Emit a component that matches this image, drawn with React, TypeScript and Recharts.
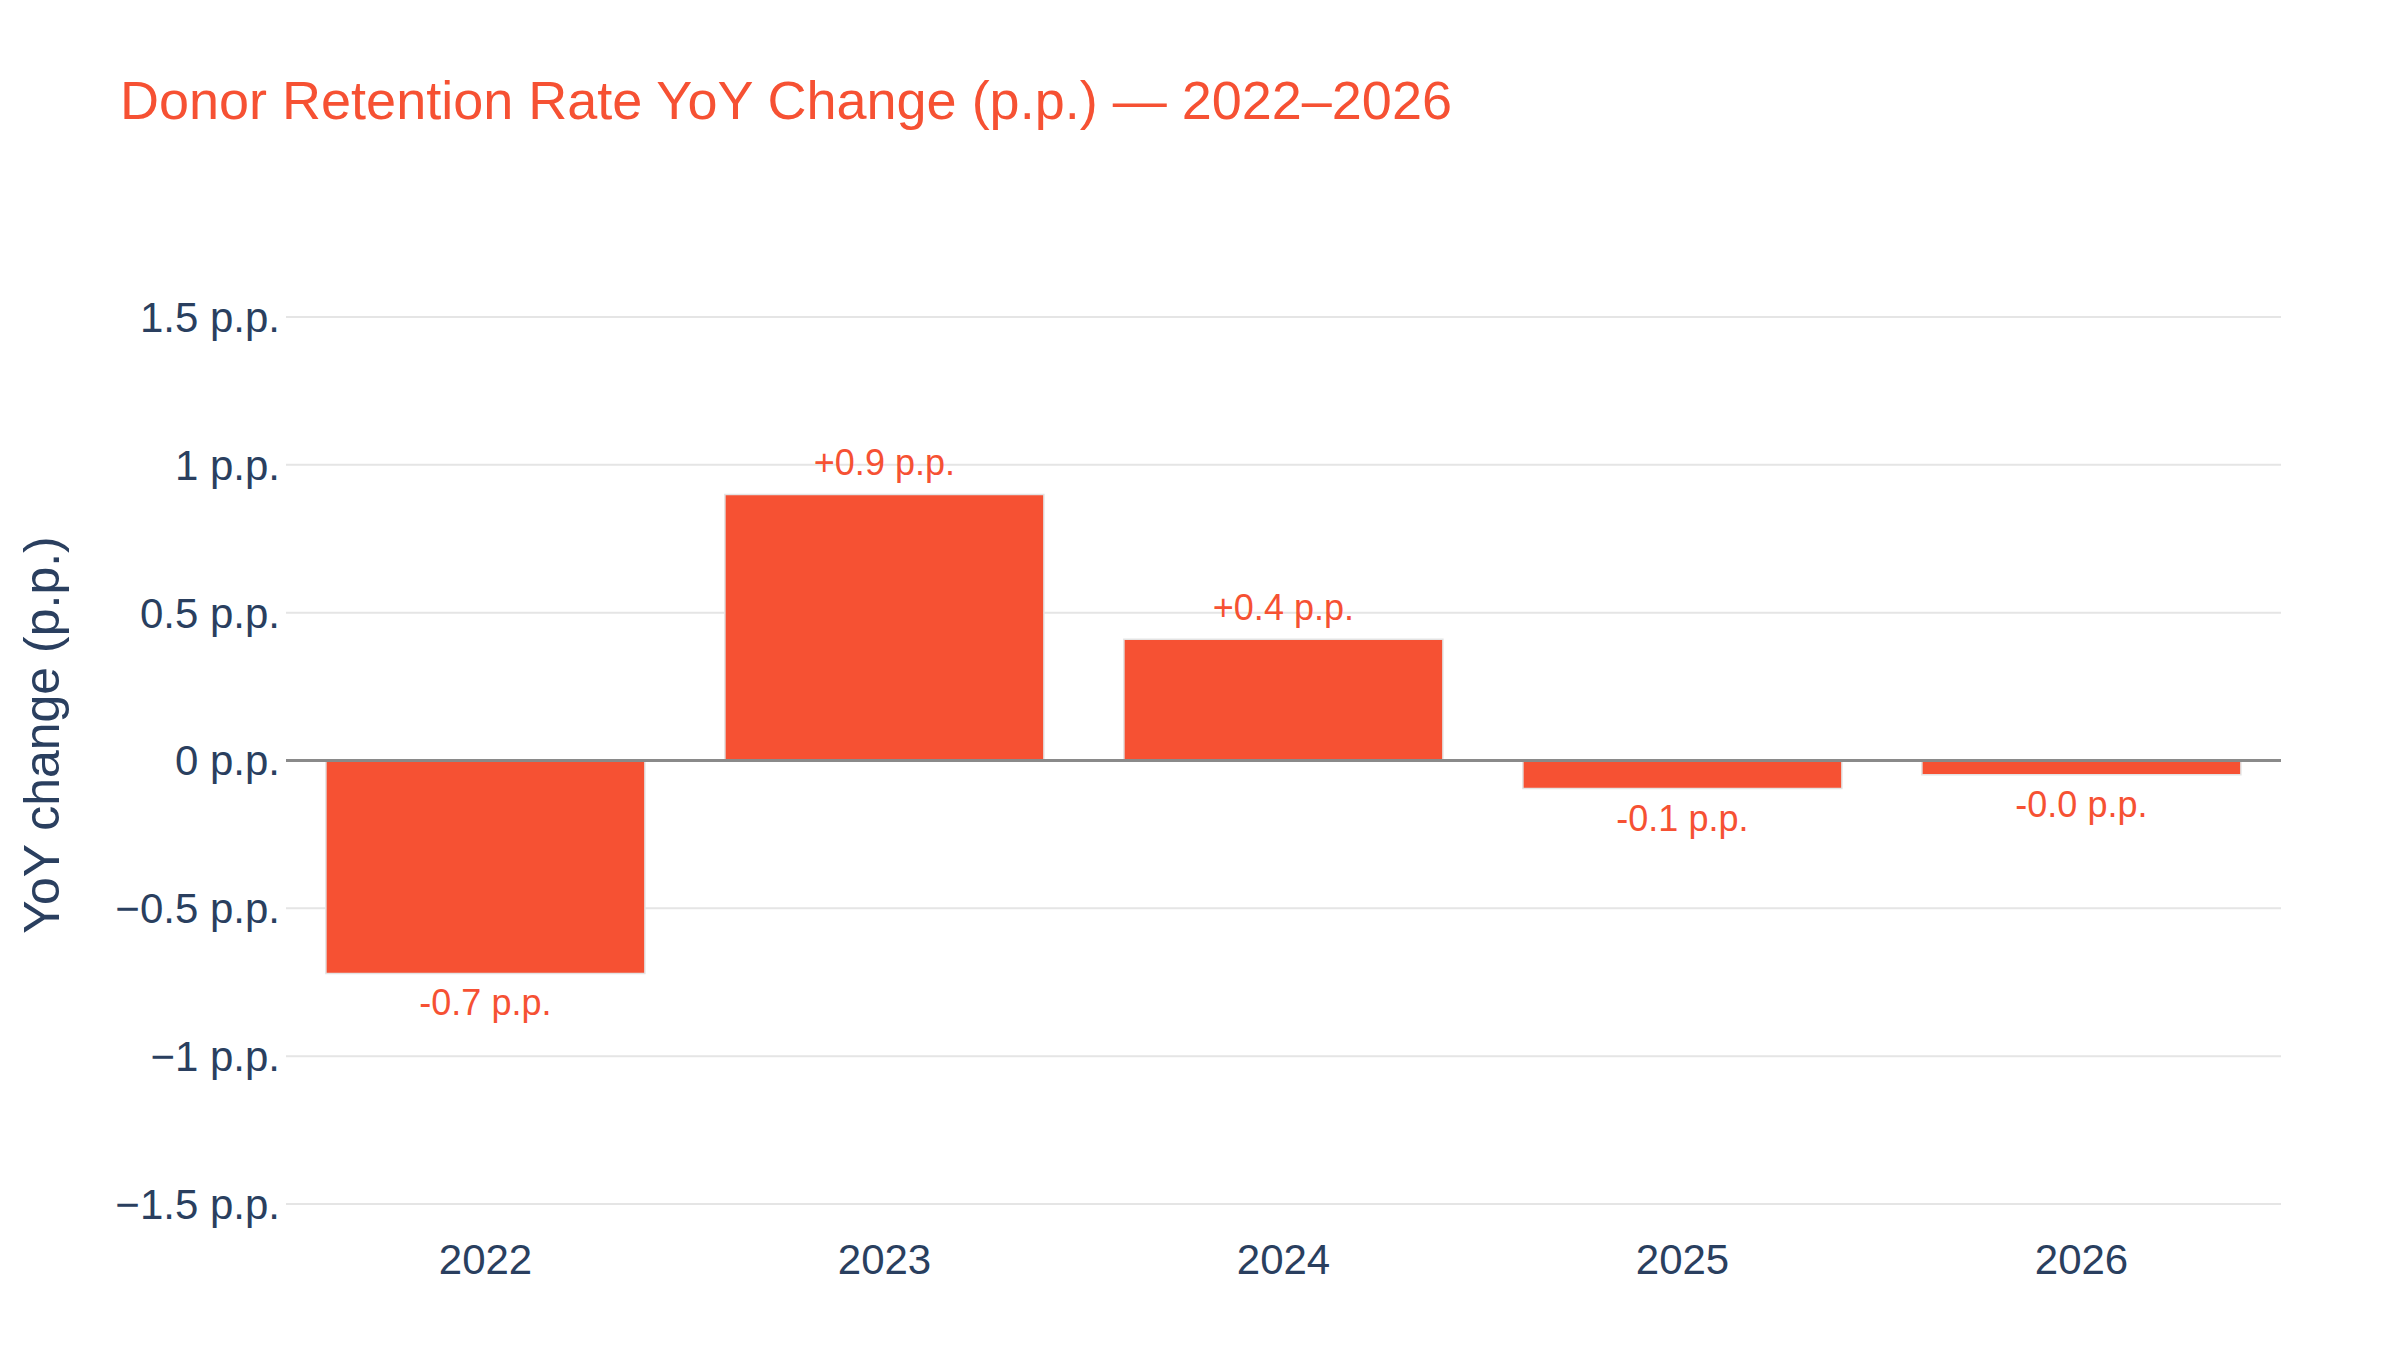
import React from "react";
import { BarChart, Bar, XAxis, YAxis, CartesianGrid, ReferenceLine, LabelList } from "recharts";

const years = ["2022", "2023", "2024", "2025", "2026"];
const yoyChange = [-0.72, 0.9, 0.41, -0.095, -0.048];
const yTicks = [-1.5, -1, -0.5, 0, 0.5, 1, 1.5];

const rows = years.map((year, i) => ({ year, change: yoyChange[i] }));

const ORANGE = "#F65133";
const INK = "#2a3f5f";
const FONT = "'Liberation Sans', Arial, Helvetica, sans-serif";

function fmtTick(v: number) {
  if (v === 0) return "0 p.p.";
  const s = String(Math.abs(v));
  return (v < 0 ? "\u2212" : "") + s + " p.p.";
}

function fmtBar(v: number) {
  return (v >= 0 ? "+" : "") + v.toFixed(1) + " p.p.";
}

function BarLabel(props: any) {
  const { x, y, width, height, value } = props;
  const top = Math.min(y, y + height);
  const bottom = Math.max(y, y + height);
  const cy = value >= 0 ? top - 19 : bottom + 42;
  return (
    <text x={x + width / 2} y={cy} textAnchor="middle" fill={ORANGE} fontSize={36} fontFamily={FONT}>
      {fmtBar(value)}
    </text>
  );
}

export default function App() {
  return (
    <div style={{ position: "absolute", left: 0, top: 0, width: 2400, height: 1350, background: "#fff" }}>
      <BarChart
        width={2400}
        height={1350}
        data={rows}
        margin={{ top: 317, right: 119, bottom: 86, left: 6 }}
        barCategoryGap="10%"
      >
        <text x={120} y={119} fill={ORANGE} fontSize={54} fontFamily={FONT}>
          Donor Retention Rate YoY Change (p.p.) — 2022–2026
        </text>
        <text
          x={42}
          y={735}
          transform="rotate(-90 42 735)"
          textAnchor="middle"
          dominantBaseline="central"
          fill={INK}
          fontSize={50}
          fontFamily={FONT}
        >
          YoY change (p.p.)
        </text>
        <CartesianGrid vertical={false} stroke="#e5e5e5" strokeWidth={2} />
        <XAxis
          dataKey="year"
          axisLine={false}
          tickLine={false}
          tickSize={0}
          tickMargin={40}
          height={60}
          tick={{ fontSize: 42, fill: INK, fontFamily: FONT }}
        />
        <YAxis
          type="number"
          domain={[-1.5, 1.5]}
          ticks={yTicks}
          interval={0}
          width={280}
          axisLine={false}
          tickLine={false}
          tickSize={0}
          tickMargin={6}
          tickFormatter={fmtTick}
          tick={{ fontSize: 42, fill: INK, fontFamily: FONT }}
        />
        <ReferenceLine y={0} stroke="#8a8a8a" strokeWidth={3} />
        <Bar dataKey="change" fill={ORANGE} stroke="#e3e3e3" strokeWidth={1.5} isAnimationActive={false}>
          <LabelList dataKey="change" content={<BarLabel />} />
        </Bar>
      </BarChart>
    </div>
  );
}
